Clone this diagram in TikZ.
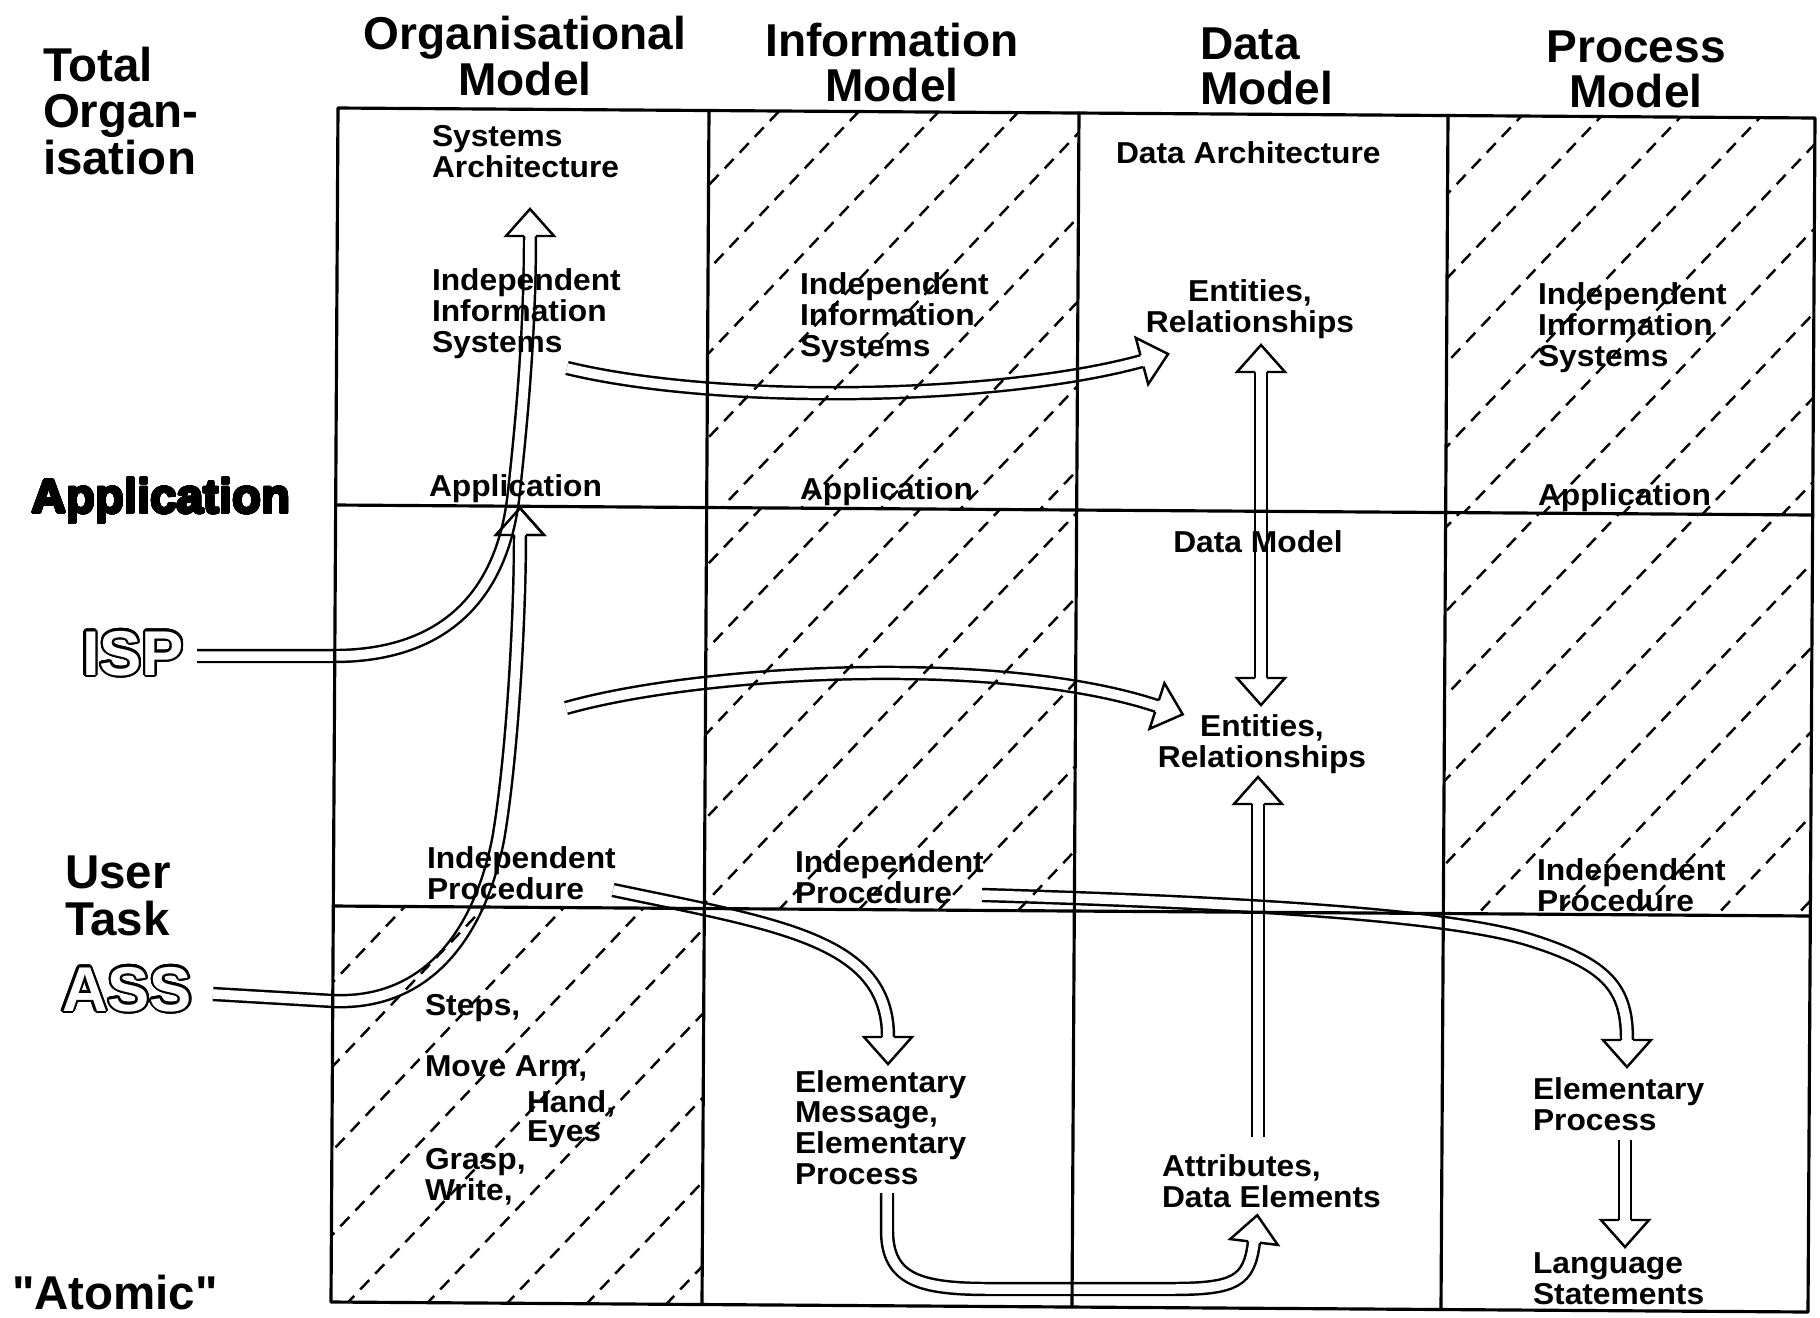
\documentclass[tikz,border=0pt]{standalone}
\usepackage{fontspec}
\usepackage{contour}
\setmainfont{Liberation Sans}
\newfontfamily\cellfont{Liberation Sans}[FakeStretch=1.05]
\newfontfamily\plainfont{Liberation Sans}
\contourlength{0.6pt}
\contournumber{32}
\usetikzlibrary{calc}
\pgfdeclarelayer{bglayer}
\pgfdeclarelayer{arrowlayer}
\pgfdeclarelayer{gridlayer}
\pgfsetlayers{bglayer,arrowlayer,gridlayer,main}

% multi-line nodes are placed by the baseline of their last line
\tikzset{
  cell/.style={inner sep=0pt, outer sep=0pt, anchor=base west, align=left,
    font=\cellfont\bfseries\fontsize{8.6pt}{8.7pt}\selectfont},
  cellc/.style={cell, anchor=base, align=center},
  headtxt/.style={inner sep=0pt, outer sep=0pt, anchor=base, align=center,
    font=\bfseries\fontsize{13.1pt}{12.8pt}\selectfont},
  sidetxt/.style={inner sep=0pt, outer sep=0pt, anchor=base west, align=left,
    font=\bfseries\fontsize{13.5pt}{13.1pt}\selectfont},
  outlinetxt/.style={inner sep=0pt, outer sep=0pt, anchor=base west,
    font=\bfseries\fontsize{18pt}{18pt}\selectfont},
  gridline/.style={line width=0.9pt, line cap=round, line join=round},
  hatchline/.style={line width=0.7pt, dash pattern=on 3.7pt off 2.5pt},
  shaft/.style={line width=0.7pt, draw=black, double=white, double distance=2.7pt},
  headline/.style={line width=0.7pt, line join=miter},
  arrowhd/.pic={
    \fill[white] (0,24) -- (27,0) -- (0,-24) -- cycle;
    \draw[headline] (0,6) -- (0,24) -- (27,0) -- (0,-24) -- (0,-6);
  },
  arrowhdedge/.pic={
    \draw[headline] (0,6) -- (0,24) -- (27,0) -- (0,-24) -- (0,-6);
  },
}

\begin{document}
\begin{tikzpicture}[x=0.01cm, y=-0.01cm]
\useasboundingbox (0,0) rectangle (1820,1317);
\begin{pgfonlayer}{bglayer}
  \fill[white] (0,0) rectangle (1820,1317);
\end{pgfonlayer}

% grid corners g<column><row>
\coordinate (g00) at (338,108);    \coordinate (g10) at (709,110.5);
\coordinate (g20) at (1079,113);   \coordinate (g30) at (1448,115.5);
\coordinate (g40) at (1815,118);
\coordinate (g01) at (335.7,505);  \coordinate (g11) at (706.7,507.5);
\coordinate (g21) at (1076.7,510); \coordinate (g31) at (1445.7,512.5);
\coordinate (g41) at (1812.7,515);
\coordinate (g02) at (333.3,906);  \coordinate (g12) at (704.3,908.5);
\coordinate (g22) at (1074.3,911); \coordinate (g32) at (1443.3,913.5);
\coordinate (g42) at (1810.3,916);
\coordinate (g03) at (331,1302);   \coordinate (g13) at (702,1304.5);
\coordinate (g23) at (1072,1307);  \coordinate (g33) at (1441,1309.5);
\coordinate (g43) at (1808,1312);

% arrow end points
\coordinate (a-s) at (197,656);   \coordinate (a-b) at (530,236);
\coordinate (b-s) at (213,994);   \coordinate (b-b) at (520,535);
\coordinate (c-s) at (567,368);   \coordinate (c-b) at (1142,361);
\coordinate (d-s) at (566,708);   \coordinate (d-b) at (1157,706);
\coordinate (e-t) at (1261,372);  \coordinate (e-u) at (1261,678);
\coordinate (f-s) at (1258,1137); \coordinate (f-b) at (1258,804);
\coordinate (g-s) at (887,1193);  \coordinate (g-b) at (1254,1242);
\coordinate (h-s) at (613,890);   \coordinate (h-b) at (888,1037);
\coordinate (i-s) at (982,895);   \coordinate (i-b) at (1627,1040);
\coordinate (j-s) at (1625,1140); \coordinate (j-b) at (1625,1220);

% hollow double-line arrows
\begin{pgfonlayer}{arrowlayer}
  \draw[shaft] (f-s) -- (f-b);
  \pic[rotate=90] at (f-b) {arrowhd};
  \draw[shaft] (e-t) -- (e-u);
  \pic[rotate=90] at (e-t) {arrowhd};
  \pic[rotate=-90] at (e-u) {arrowhd};
  \draw[shaft] (b-s) -- (333,1001) .. controls (430,1005) and (480,930) .. (498,840)
       .. controls (512,760) and (520,620) .. (b-b);
  \pic[rotate=90] at (b-b) {arrowhd};
  \draw[shaft] (a-s) -- (334,656) .. controls (440,656) and (500,600) .. (513,500)
       .. controls (522,420) and (530,330) .. (a-b);
  \pic[rotate=90] at (a-b) {arrowhd};
  \pic[rotate=90] at (b-b) {arrowhdedge};
  \draw[shaft] (c-s) .. controls (720,405) and (1000,400) .. (c-b);
  \pic[rotate=15] at (c-b) {arrowhd};
  \draw[shaft] (d-s) .. controls (700,670) and (1000,654) .. (d-b);
  \pic[rotate=-18] at (d-b) {arrowhd};
  \draw[shaft] (h-s) .. controls (780,925) and (888,940) .. (h-b);
  \pic[rotate=-90] at (h-b) {arrowhd};
  \draw[shaft] (i-s) .. controls (1250,903) and (1450,915) .. (1530,940)
       .. controls (1610,965) and (1627,990) .. (i-b);
  \pic[rotate=-90] at (i-b) {arrowhd};
  \draw[headline] ($(f-s)+(-6,0)$) -- ($(f-b)+(-6,0)$)
                  ($(f-s)+(6,0)$) -- ($(f-b)+(6,0)$);
  \draw[shaft] (g-s) -- (887,1230) .. controls (887,1280) and (920,1289) .. (990,1289)
       -- (1170,1289) .. controls (1235,1289) and (1249,1282) .. (g-b);
  \pic[rotate=83] at (g-b) {arrowhd};
  \draw[shaft] (j-s) -- (j-b);
  \pic[rotate=-90] at (j-b) {arrowhd};
\end{pgfonlayer}

% the matrix
\begin{pgfonlayer}{gridlayer}
  \draw[gridline] (g00) -- (g40) -- (g43) -- (g03) -- cycle;
  \draw[gridline] (g01) -- (g41) (g02) -- (g42);
  \draw[gridline] (g10) -- (g13) (g20) -- (g23) (g30) -- (g33);
\end{pgfonlayer}

% dashed hatching of the shaded cells
\foreach \ca/\cb/\cc/\cd/\ph in {g10/g20/g21/g11/5, g11/g21/g22/g12/45,
    g30/g40/g41/g31/32, g31/g41/g42/g32/28, g02/g12/g13/g03/68} {
  \begin{scope}
    \clip (\ca) -- (\cb) -- (\cc) -- (\cd) -- cycle;
    \foreach \n in {0,...,40}
      \draw[hatchline] ({\ph+80*\n-1333},1400) -- ({\ph+80*\n},0);
  \end{scope}
}

% column headings
\node[headtxt] (hOrg) at (525,95) {Organisational\\Model};
\node[headtxt] (hInf) at (892,101) {Information\\Model};
\node[headtxt, anchor=base west, align=left] (hData) at (1200,104) {Data\\Model};
\node[headtxt] (hPrc) at (1636,107) {Process\\Model};

% level labels
\node[sidetxt] (lTotal) at (43,174) {Total\\Organ-\\isation};
\node[sidetxt] (lApp) at (32,513) {\contourlength{0.35pt}\contour{black}{Application}};
\node[sidetxt] (lUser) at (65,935) {User\\Task};
\node[outlinetxt] (lISP) at (82,675) {\color{white}\contour{black}{ISP}};
\node[outlinetxt] (lASS) at (62,1011) {\color{white}\contour{black}{ASS}};
\node[sidetxt] (lAtomic) at (12,1309) {\plainfont\bfseries "Atomic"};

% organisational model
\node[cell] (orgSA) at (432,177) {Systems\\Architecture};
\node[cell] (orgIIS) at (432,352) {Independent\\Information\\Systems};
\node[cell] (orgApp) at (429,496) {Application};
\node[cell] (orgIP) at (427,899) {Independent\\Procedure};
\node[cell] (steps) at (425,1015) {Steps,};
\node[cell] (move) at (425,1076) {Move Arm,};
\node[cell] (hand) at (527,1112) {Hand,};
\node[cell] (eyes) at (527,1141) {Eyes};
\node[cell] (grasp) at (425,1200) {Grasp,\\Write,};

% information model
\node[cell] (infIIS) at (800,356) {Independent\\Information\\Systems};
\node[cell] (infApp) at (800,499) {Application};
\node[cell] (infIP) at (795,903) {Independent\\Procedure};
\node[cell] (infEM) at (795,1184) {Elementary\\Message,\\Elementary\\Process};

% data model
\node[cell] (dataArch) at (1116,163) {Data Architecture};
\node[cellc] (dataER1) at (1250,332) {Entities,\\Relationships};
\node[cellc] (dataDM) at (1258,552) {Data Model};
\node[cellc] (dataER2) at (1262,767) {Entities,\\Relationships};
\node[cell] (dataAttr) at (1162,1207) {Attributes,\\Data Elements};

% process model
\node[cell] (prcIIS) at (1538,366) {Independent\\Information\\Systems};
\node[cell] (prcApp) at (1538,505) {Application};
\node[cell] (prcIP) at (1537,911) {Independent\\Procedure};
\node[cell] (prcEP) at (1533,1130) {Elementary\\Process};
\node[cell] (prcLS) at (1533,1304) {Language\\Statements};
\end{tikzpicture}
\end{document}
